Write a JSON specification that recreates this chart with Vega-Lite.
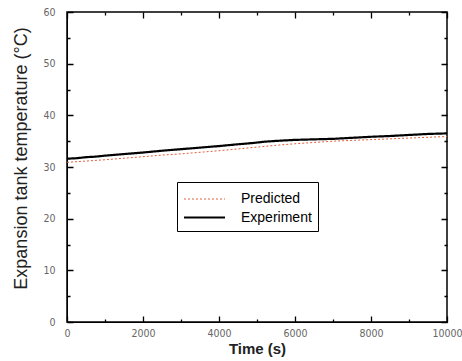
{
  "$schema": "https://vega.github.io/schema/vega-lite/v6.json",
  "autosize": "none",
  "width": 380,
  "height": 310,
  "padding": {"left": 67, "top": 12, "right": 15, "bottom": 39},
  "background": "white",
  "config": {
    "view": {"stroke": "black", "strokeWidth": 1.5},
    "axis": {"grid": true, "gridColor": "black", "gridOpacity": 1, "gridWidth": 1.3, "ticks": false, "zindex": 1, "domainColor": "black", "labelFont": "DejaVu Sans Condensed", "labelColor": "#666", "labelFontSize": 10.5, "titleFont": "Liberation Sans", "titleColor": "#222"}
  },
  "data": {"values": [
    {"t": 0, "temp": 31.6, "series": "Experiment"},
    {"t": 250, "temp": 31.7, "series": "Experiment"},
    {"t": 500, "temp": 31.9, "series": "Experiment"},
    {"t": 750, "temp": 32.0, "series": "Experiment"},
    {"t": 1000, "temp": 32.2, "series": "Experiment"},
    {"t": 1500, "temp": 32.5, "series": "Experiment"},
    {"t": 2000, "temp": 32.8, "series": "Experiment"},
    {"t": 2500, "temp": 33.15, "series": "Experiment"},
    {"t": 3000, "temp": 33.45, "series": "Experiment"},
    {"t": 3500, "temp": 33.75, "series": "Experiment"},
    {"t": 4000, "temp": 34.05, "series": "Experiment"},
    {"t": 4500, "temp": 34.4, "series": "Experiment"},
    {"t": 4900, "temp": 34.65, "series": "Experiment"},
    {"t": 5200, "temp": 34.9, "series": "Experiment"},
    {"t": 5500, "temp": 35.05, "series": "Experiment"},
    {"t": 6000, "temp": 35.25, "series": "Experiment"},
    {"t": 6500, "temp": 35.35, "series": "Experiment"},
    {"t": 7000, "temp": 35.45, "series": "Experiment"},
    {"t": 7500, "temp": 35.65, "series": "Experiment"},
    {"t": 8000, "temp": 35.85, "series": "Experiment"},
    {"t": 8500, "temp": 36.0, "series": "Experiment"},
    {"t": 9000, "temp": 36.2, "series": "Experiment"},
    {"t": 9500, "temp": 36.4, "series": "Experiment"},
    {"t": 10000, "temp": 36.5, "series": "Experiment"},
    {"t": 0, "temp": 30.9, "series": "Predicted"},
    {"t": 500, "temp": 31.15, "series": "Predicted"},
    {"t": 1000, "temp": 31.4, "series": "Predicted"},
    {"t": 1500, "temp": 31.7, "series": "Predicted"},
    {"t": 2000, "temp": 32.0, "series": "Predicted"},
    {"t": 2500, "temp": 32.3, "series": "Predicted"},
    {"t": 3000, "temp": 32.55, "series": "Predicted"},
    {"t": 3500, "temp": 32.85, "series": "Predicted"},
    {"t": 4000, "temp": 33.15, "series": "Predicted"},
    {"t": 4500, "temp": 33.5, "series": "Predicted"},
    {"t": 5000, "temp": 33.85, "series": "Predicted"},
    {"t": 5500, "temp": 34.2, "series": "Predicted"},
    {"t": 6000, "temp": 34.5, "series": "Predicted"},
    {"t": 6500, "temp": 34.75, "series": "Predicted"},
    {"t": 7000, "temp": 35.0, "series": "Predicted"},
    {"t": 7500, "temp": 35.15, "series": "Predicted"},
    {"t": 8000, "temp": 35.3, "series": "Predicted"},
    {"t": 8500, "temp": 35.45, "series": "Predicted"},
    {"t": 9000, "temp": 35.6, "series": "Predicted"},
    {"t": 9500, "temp": 35.75, "series": "Predicted"},
    {"t": 10000, "temp": 35.9, "series": "Predicted"}
  ]},
  "layer": [
    {
      "mark": {"type": "line", "clip": true},
      "encoding": {
        "x": {"field": "t", "type": "quantitative", "title": "Time (s)",
          "scale": {"domain": [0, 10000], "nice": false},
          "axis": {"values": [0,1000,2000,3000,4000,5000,6000,7000,8000,9000,10000],
            "labelExpr": "datum.value % 2000 === 0 ? datum.label : ''",
            "format": "d",
            "gridDash": {"condition": {"test": "datum.value % 2000 === 0", "value": [6, 298, 6, 0]}, "value": [3, 304, 3, 0]},
            "labelPadding": 6, "labelFlush": false,
            "titleFontSize": 15, "titleFontWeight": "bold", "titlePadding": 3}},
        "y": {"field": "temp", "type": "quantitative", "title": "Expansion tank temperature (°C)",
          "scale": {"domain": [0, 60], "nice": false},
          "axis": {"values": [0,5,10,15,20,25,30,35,40,45,50,55,60],
            "labelExpr": "datum.value % 10 === 0 ? datum.label : ''",
            "gridDash": {"condition": {"test": "datum.value % 10 === 0", "value": [6, 368, 6, 0]}, "value": [3, 374, 3, 0]},
            "labelPadding": 12, "labelFlush": false,
            "titleFontSize": 18, "titleFontWeight": "normal", "titleX": -37, "titleY": 146}},
        "color": {"field": "series", "type": "nominal", "sort": ["Predicted", "Experiment"],
          "scale": {"domain": ["Predicted", "Experiment"], "range": ["#e0603a", "black"]},
          "legend": {"title": null, "orient": "none", "legendX": 110, "legendY": 170,
            "strokeColor": "black", "padding": 6, "symbolType": "M-2,0L2,0", "symbolSize": 420,
            "symbolOffset": 10,
            "symbolStrokeWidth": 1.5, "labelFont": "Liberation Sans", "labelFontSize": 14,
            "labelColor": "black", "rowPadding": 0, "labelOffset": 25}},
        "strokeDash": {"field": "series", "type": "nominal", "sort": ["Predicted", "Experiment"],
          "scale": {"domain": ["Predicted", "Experiment"], "range": [[2, 2], [1, 0]]}},
        "strokeWidth": {"field": "series", "type": "nominal",
          "scale": {"domain": ["Predicted", "Experiment"], "range": [1, 2.2]}, "legend": null}
      }
    }
  ]
}
